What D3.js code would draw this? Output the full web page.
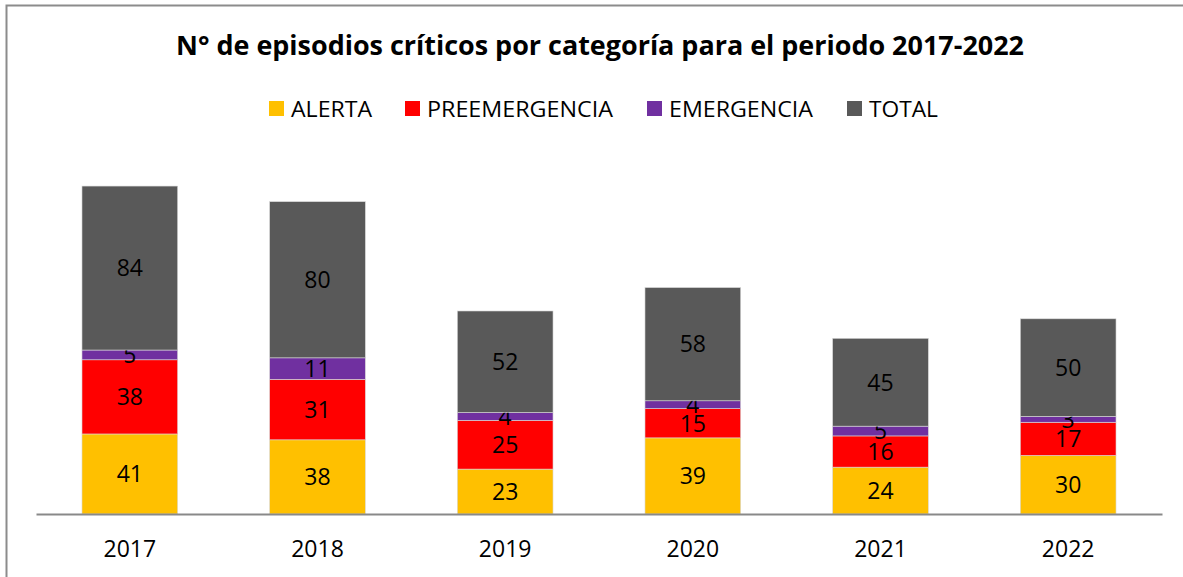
<!DOCTYPE html>
<html><head><meta charset="utf-8">
<script src="https://cdn.jsdelivr.net/npm/d3@7"></script>
<style>body{margin:0;background:#fff}svg{display:block}</style>
</head><body>
<script>
const years = ["2017","2018","2019","2020","2021","2022"];
const alerta = [41,38,23,39,24,30];
const preemergencia = [38,31,25,15,16,17];
const emergencia = [5,11,4,4,5,3];
const total = [84,80,52,58,45,50];
const seriesNames = ["ALERTA","PREEMERGENCIA","EMERGENCIA","TOTAL"];
const colors = ["#FFC000","#FF0000","#7030A0","#595959"];
const title = "N° de episodios críticos por categoría para el periodo 2017-2022";

const W=1183,H=577;
const font = "'Open Sans', sans-serif";
const svg=d3.select("body").append("svg").attr("width",W).attr("height",H);
svg.append("rect").attr("width",W).attr("height",H).attr("fill","#fff");
svg.append("rect").attr("x",6.5).attr("y",5.5).attr("width",W+10).attr("height",H+10)
  .attr("fill","none").attr("stroke","#8c8c8c").attr("stroke-width",2);

const table = years.map((y,i)=>({year:y,ALERTA:alerta[i],PREEMERGENCIA:preemergencia[i],EMERGENCIA:emergencia[i],TOTAL:total[i]}));
const stacked = d3.stack().keys(seriesNames)(table);

const x=d3.scaleBand().domain(years).range([36,1162]).paddingInner(0.49).paddingOuter(0.245);
const y=d3.scaleLinear().domain([0,180]).range([514,514-180*1.952]);

svg.append("text").attr("x",600).attr("y",55).attr("text-anchor","middle")
  .attr("font-family",font).attr("font-weight","bold").attr("font-size",26)
  .attr("textLength",848).attr("lengthAdjust","spacingAndGlyphs")
  .attr("fill","#000").text(title);

// legend
const legX=[269,405,647,847];
const legW=[81,186,144,69];
seriesNames.forEach((s,i)=>{
  const g=svg.append("g");
  g.append("rect").attr("x",legX[i]).attr("y",101).attr("width",15).attr("height",15).attr("fill",colors[i]);
  g.append("text").attr("x",legX[i]+22).attr("y",116.5).attr("font-family",font).attr("font-size",22)
    .attr("textLength",legW[i]).attr("lengthAdjust","spacingAndGlyphs").attr("fill","#000").text(s);
});

stacked.forEach((layer,li)=>{
  const g=svg.append("g");
  g.selectAll("rect").data(layer).join("rect")
    .attr("x",d=>x(d.data.year)).attr("width",x.bandwidth())
    .attr("y",d=>y(d[1])).attr("height",d=>y(d[0])-y(d[1]))
    .attr("fill",colors[li]).attr("stroke","#d9d9d9").attr("stroke-width",0.6);
  g.selectAll("text").data(layer).join("text")
    .attr("x",d=>x(d.data.year)+x.bandwidth()/2)
    .attr("y",d=>(y(d[0])+y(d[1]))/2)
    .attr("dy","0.36em").attr("text-anchor","middle")
    .attr("font-family",font).attr("font-size",23).attr("fill","#000")
    .text(d=>d[1]-d[0]);
});

const axis=d3.axisBottom(x).tickSize(0).tickPadding(0);
const ag=svg.append("g").attr("transform","translate(0,514)").call(axis);
ag.select(".domain").attr("stroke","#898989").attr("stroke-width",2);
ag.selectAll(".tick text").attr("y",43).attr("dy",0).attr("font-family",font).attr("font-size",23).attr("fill","#000");
</script>
</body></html>
